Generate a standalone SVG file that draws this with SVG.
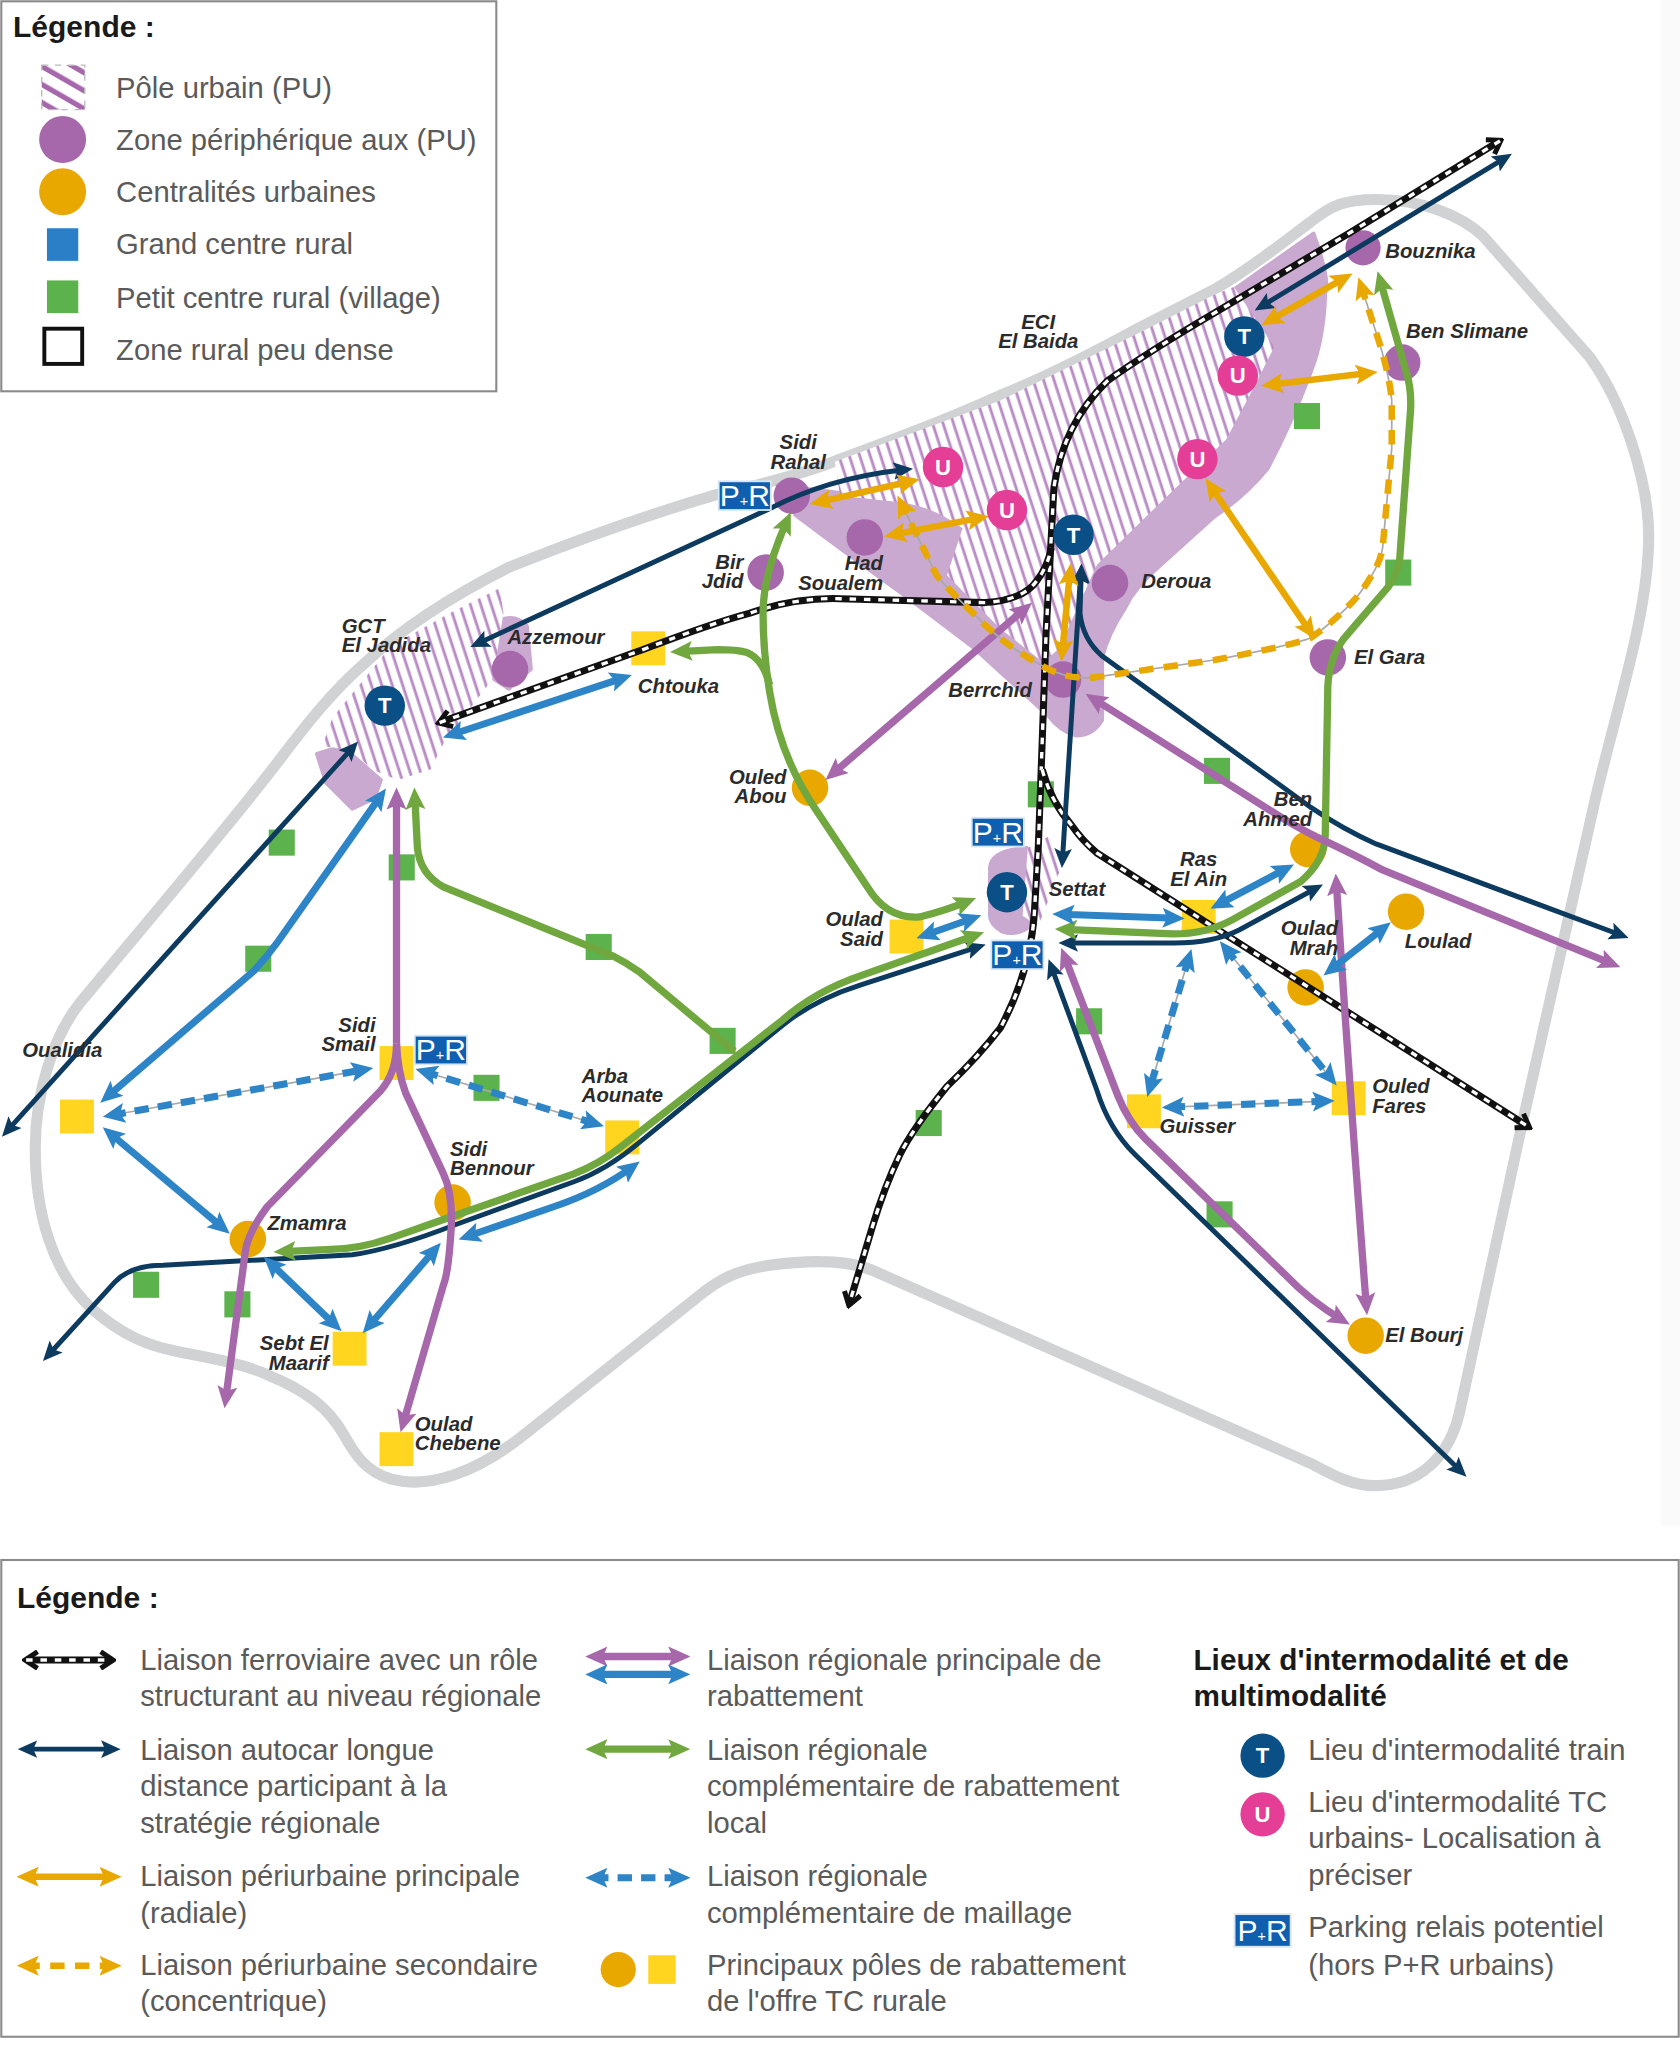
<svg xmlns="http://www.w3.org/2000/svg" width="1680" height="2045" viewBox="0 0 1680 2045">
<style>
text{font-family:"Liberation Sans",Arial,sans-serif}
.lg{font-size:22.4px;fill:#5a5a5a}
.lt{font-size:23px;font-weight:700;fill:#1a1a1a}
.lb{font-size:22.8px;font-weight:700;fill:#1a1a1a}
.nm{font-size:15.6px;font-weight:700;font-style:italic;fill:#2b2b2b}
.e{text-anchor:end}.m{text-anchor:middle}
.ic{font-size:17px;font-weight:700;fill:#fff;text-anchor:middle}
.pr{font-size:23px;fill:#fff;text-anchor:middle}
.box{fill:#fff;stroke:#8a8a8a;stroke-width:1.6}
.lp{fill:#c9a9d0;stroke:#c9a9d0;stroke-width:3;stroke-linejoin:round}
.ha{fill:url(#hatch)}
.pz{fill:#a668ab}.or{fill:#e9a800}.ye{fill:#ffd520}.gr{fill:#5cb24c}.bl{fill:#2a7fc6}
.t{fill:#0a4f85}.u{fill:#e43e97}.prb{fill:#0f5fae;stroke:#d6e6f5;stroke-width:1.4}
path{fill:none}
.zone{stroke:#d0d2d3;stroke-width:8.5;stroke-linejoin:round}
.rb{stroke:#111;stroke-width:5.4;marker-start:url(#hr);marker-end:url(#hr)}
.rn{stroke:#111;stroke-width:5.4}
.rw{stroke:#fff;stroke-width:2.6;stroke-dasharray:5 6}
.na{stroke:#0d3a5f;stroke-width:3.8;marker-start:url(#hna);marker-end:url(#hna)}
.pu{stroke:#a668ab;stroke-width:5.6;marker-start:url(#hpu);marker-end:url(#hpu)}
.gn{stroke:#71a73f;stroke-width:5.6;marker-start:url(#hgn);marker-end:url(#hgn)}
.bu{stroke:#2d84c6;stroke-width:5.4;marker-start:url(#hbu);marker-end:url(#hbu)}
.ora{stroke:#e9a800;stroke-width:5;marker-start:url(#hor);marker-end:url(#hor)}
.thin{stroke:#a9a9a9;stroke-width:1.3}
.dbu{stroke:#2d84c6;stroke-width:5.4;stroke-dasharray:11 7;marker-start:url(#hbu);marker-end:url(#hbu)}
.dor{stroke:#e9a800;stroke-width:5;stroke-dasharray:11 8;marker-start:url(#hor);marker-end:url(#hor)}
</style>
<defs>
<pattern id="hatch" width="7.6" height="9" patternUnits="userSpaceOnUse" patternTransform="rotate(-18)"><rect width="7.6" height="9" fill="#fff"/><rect x="1" width="2.2" height="9" fill="#b88bc4"/></pattern>
<pattern id="hatch2" width="12" height="12" patternUnits="userSpaceOnUse" patternTransform="rotate(30)"><rect width="12" height="12" fill="#fff"/><rect y="2" width="12" height="4" fill="#a668ab"/></pattern>
<marker id="hr" viewBox="0 0 10 10" refX="8" refY="5" markerWidth="16" markerHeight="16" markerUnits="userSpaceOnUse" orient="auto-start-reverse"><path d="M2.5,1 L8.5,5 L2.5,9" style="fill:none;stroke:#111;stroke-width:2.4"/></marker>
<marker id="hna" viewBox="0 0 10 10" refX="6" refY="5" markerWidth="15" markerHeight="15" markerUnits="userSpaceOnUse" orient="auto-start-reverse"><path d="M0,.5 L10,5 L0,9.5 L2,5z" style="fill:#0d3a5f"/></marker>
<marker id="hpu" viewBox="0 0 10 10" refX="6" refY="5" markerWidth="17" markerHeight="17" markerUnits="userSpaceOnUse" orient="auto-start-reverse"><path d="M0,.5 L10,5 L0,9.5 L2,5z" style="fill:#a668ab"/></marker>
<marker id="hgn" viewBox="0 0 10 10" refX="6" refY="5" markerWidth="17" markerHeight="17" markerUnits="userSpaceOnUse" orient="auto-start-reverse"><path d="M0,.5 L10,5 L0,9.5 L2,5z" style="fill:#71a73f"/></marker>
<marker id="hbu" viewBox="0 0 10 10" refX="6" refY="5" markerWidth="17" markerHeight="17" markerUnits="userSpaceOnUse" orient="auto-start-reverse"><path d="M0,.5 L10,5 L0,9.5 L2,5z" style="fill:#2d84c6"/></marker>
<marker id="hor" viewBox="0 0 10 10" refX="6" refY="5" markerWidth="17" markerHeight="17" markerUnits="userSpaceOnUse" orient="auto-start-reverse"><path d="M0,.5 L10,5 L0,9.5 L2,5z" style="fill:#e9a800"/></marker>
</defs>
<rect width="1680" height="2045" fill="#fff"/>
<g transform="scale(1.30435)">
<rect x="1273" y="0" width="15" height="1170" fill="#fafafa"/>
<g id="zones">
<path class="zone" d="M214,583 C170,640 110,710 62,768 C40,795 27,840 27,880 C27,930 40,975 70,1003 C95,1025 115,1032 135,1036 C160,1041 185,1045 205,1054 C235,1066 252,1080 263,1099 C272,1115 280,1128 300,1134 C330,1142 365,1128 398,1103 L534,995 C552,980 565,974 590,970 C620,966 650,966 669,974 L1005,1122 C1020,1130 1035,1139 1055,1139 C1085,1139 1112,1120 1120,1078 L1166,866 L1223,613 C1240,540 1264,470 1264,411 C1264,370 1245,310 1219,274 L1137,181 C1120,165 1090,153 1055,153 C1030,153 1020,158 1005,170 C985,185 960,205 931,222 L874,251 C830,275 800,290 767,303 C725,322 690,335 644,352 C620,362 590,370 550,379 C495,395 440,415 390,435 C350,455 310,480 279,509 C255,530 235,555 214,583 Z"/>
<path class="lp" d="M1007,179 Q1020,215 1016,225 Q1015,260 1005,285 Q990,325 972,359 Q955,380 931,396 L890,433 Q870,450 862,467 Q850,485 845,504 L845,552 Q838,564 825,564 Q812,560 804,549 L747,497 L697,459 Q650,425 610,395 L596,372 L644,378 L946,222 Z"/>
<path class="ha" d="M640,354 L767,307 L874,255 L931,226 L946,220 L977,266 L956,307 L940,337 L890,385 L841,433 L812,497 L800,508 L767,482 L726,441 L738,405 Q715,388 690,385 L644,380 Z"/>
<path class="lp" d="M382,476 Q395,470 404,480 L407,513 L390,528 L378,520 Z M243,578 L262,572 L292,598 L287,612 L270,620 L250,600 Z"/>
<path class="ha" d="M383,451 L386,470 L378,520 L340,570 L330,590 L305,598 L285,590 L270,575 L247,572 L255,550 L300,495 L345,470 Z"/>
<path class="lp" d="M759,665 Q760,652 787,650 L790,710 Q780,718 768,714 Q758,708 759,700 Z"/>
<path class="ha" d="M788,650 L808,639 L812,669 L796,710 L784,702 Z"/>
</g>
<g id="village-1"><rect class="gr" x="992" y="309" width="20" height="20"/></g>
<g id="village-2"><rect class="gr" x="1062" y="429" width="20" height="20"/></g>
<g id="village-3"><rect class="gr" x="923" y="581" width="20" height="20"/></g>
<g id="village-4"><rect class="gr" x="788" y="599" width="20" height="20"/></g>
<g id="village-5"><rect class="gr" x="825" y="773" width="20" height="20"/></g>
<g id="village-6"><rect class="gr" x="702" y="851" width="20" height="20"/></g>
<g id="village-7"><rect class="gr" x="925" y="921" width="20" height="20"/></g>
<g id="village-8"><rect class="gr" x="206" y="636" width="20" height="20"/></g>
<g id="village-9"><rect class="gr" x="298" y="655" width="20" height="20"/></g>
<g id="village-10"><rect class="gr" x="188" y="725" width="20" height="20"/></g>
<g id="village-11"><rect class="gr" x="449" y="716" width="20" height="20"/></g>
<g id="village-12"><rect class="gr" x="544" y="788" width="20" height="20"/></g>
<g id="village-13"><rect class="gr" x="363" y="824" width="20" height="20"/></g>
<g id="village-14"><rect class="gr" x="102" y="975" width="20" height="20"/></g>
<g id="village-15"><rect class="gr" x="172" y="990" width="20" height="20"/></g>

<g id="bouznika"><circle class="pz" cx="1045" cy="190" r="13.5"/></g>
<g id="ben-slimane"><circle class="pz" cx="1075" cy="278" r="14"/></g>
<g id="sidi-rahal"><circle class="pz" cx="607" cy="380" r="14"/></g>
<g id="had-soualem"><circle class="pz" cx="663" cy="412" r="14"/></g>
<g id="bir-jdid"><circle class="pz" cx="587" cy="439" r="14"/></g>
<g id="azzemour"><circle class="pz" cx="391" cy="513" r="14"/></g>
<g id="deroua"><circle class="pz" cx="851" cy="447" r="14"/></g>
<g id="berrchid"><circle class="pz" cx="815" cy="521" r="14"/></g>
<g id="el-gara"><circle class="pz" cx="1018" cy="504" r="14"/></g>
<g id="ouled-abou"><circle class="or" cx="621" cy="604" r="14"/></g>
<g id="ben-ahmed"><circle class="or" cx="1003" cy="651" r="14"/></g>
<g id="loulad"><circle class="or" cx="1078" cy="699" r="14"/></g>
<g id="oulad-mrah"><circle class="or" cx="1001" cy="757" r="14"/></g>
<g id="el-bourj"><circle class="or" cx="1047" cy="1024" r="14"/></g>
<g id="sidi-bennour"><circle class="or" cx="347" cy="922" r="14"/></g>
<g id="zmamra"><circle class="or" cx="190" cy="950" r="14"/></g>
<g id="chtouka"><rect class="ye" x="484" y="484" width="26" height="26"/></g>
<g id="oulad-said"><rect class="ye" x="682" y="705" width="26" height="26"/></g>
<g id="ras-el-ain"><rect class="ye" x="906" y="690" width="26" height="26"/></g>
<g id="guisser"><rect class="ye" x="864" y="839" width="26" height="26"/></g>
<g id="ouled-fares"><rect class="ye" x="1021" y="829" width="26" height="26"/></g>
<g id="sidi-smail"><rect class="ye" x="291" y="802" width="26" height="26"/></g>
<g id="arba-aounate"><rect class="ye" x="464" y="859" width="26" height="26"/></g>
<g id="oualidia"><rect class="ye" x="46" y="843" width="26" height="26"/></g>
<g id="sebt-el-maarif"><rect class="ye" x="255" y="1021" width="26" height="26"/></g>
<g id="oulad-chebene"><rect class="ye" x="291" y="1098" width="26" height="26"/></g>

<g id="connectors">
<path class="rb" d="M1150,108 L1034,179 L931,240 Q880,270 849,292 Q815,325 808,374 L802,485 L798,597 L796,650 L793,700 Q790,745 767,788 Q750,810 726,833 Q700,865 690,885 Q678,910 669,940 L651,1000"/>
<path class="rw" d="M1150,108 L1034,179 L931,240 Q880,270 849,292 Q815,325 808,374 L802,485 L798,597 L796,650 L793,700 Q790,745 767,788 Q750,810 726,833 Q700,865 690,885 Q678,910 669,940 L651,1000"/>
<path class="rn" style="marker-start:url(#hr)" d="M337,554 L493,498 Q545,478 575,470 Q610,458 644,459 L755,462 Q785,460 795,445 Q803,435 806,420"/>
<path class="rw" d="M337,554 L493,498 Q545,478 575,470 Q610,458 644,459 L755,462 Q785,460 795,445 Q803,435 806,420"/>
<path class="rn" style="marker-end:url(#hr)" d="M799,590 Q806,615 821,632 Q830,645 841,654 L1172,864"/>
<path class="rw" d="M799,590 Q806,615 821,632 Q830,645 841,654 L1172,864"/>

<path class="na" d="M967,235 L1154,121"/>
<path class="na" d="M694,360 C650,365 620,375 590,390 L366,493.5"/>
<path class="na" d="M270.5,573 L5.5,867"/>
<path class="na" d="M750,726 L660,755 Q625,766 600,786 L490,876 Q465,897 440,906 L349,939 Q300,958 270,962 L125,970 Q100,970 88,983 L37,1039"/>
<path class="na" d="M828.6,438.5 L814.5,659.5"/>
<path class="na" d="M829,438 L828,470 Q830,490 845,503 L1005,619 Q1030,636 1055,647 L1243,717"/>
<path class="na" d="M1009,681 L950,713 Q930,723 900,723 L817.5,723"/>
<path class="na" d="M806,741 L841,836 Q850,865 870,885 L1120,1128"/>

<path class="gn" d="M1058,214.5 L1078,285 Q1083,300 1081,320 L1073,430 Q1070,445 1060,455 L1030,490 Q1019,505 1018,526 L1016,640 Q1016,660 997,676 L945,705 Q925,716 899,716 L815.5,712.5"/>
<path class="gn" d="M603.5,399 Q585,440 585,470 Q585,500 590,530 Q598,580 625,620 L665,680 Q680,705 705,703 Q725,698 742,691"/>
<path class="gn" style="marker-start:none" d="M590,525 Q585,505 572,500 Q565,498 550,498 L520.5,499.5"/>
<path class="gn" style="marker-end:none" d="M318,610.5 L320,650 Q322,670 340,680 L470,733 Q480,738 490,745 L563,806"/>
<path class="gn" d="M748,717 L660,748 Q625,760 600,782 L475,880 Q460,892 440,900 L340,935 L300,949 Q275,958 250,958 L216.5,959.5"/>

<path class="pu" style="marker-end:none" d="M304,610.5 L304,800"/>
<path class="pu" style="marker-start:none" d="M304,800 Q304,822 292,836 L205,925 Q190,945 188,960 L173,1073"/>
<path class="pu" style="marker-start:none" d="M304,800 Q305,822 311,838 L340,900 Q347,915 346,940 Q344,975 340,985 L309,1091.5"/>
<path class="pu" d="M786,466.5 L638,593.5"/>
<path class="pu" d="M838,535.5 L975,622 Q990,632 1010,642 Q1040,656 1060,667 L1236,739"/>
<path class="pu" d="M1024.5,676.5 Q1035,840 1047.5,1001.5"/>
<path class="pu" d="M816,733 L857,840 Q865,860 878,873 L985,977 Q1005,998 1029,1012"/>

<path class="bu" d="M292,610 L213,722 Q205,733 195,744 L82,841"/>
<path class="bu" d="M84,868.5 L171,941.5"/>
<path class="bu" d="M207,968 L257,1016"/>
<path class="bu" d="M282.5,1017 L333.5,958"/>
<path class="bu" d="M358,948 L425,925 Q460,913 485,894.5"/>
<path class="bu" d="M346,563.3 L478,519.7"/>
<path class="bu" d="M709,717 L746,704"/>
<path class="bu" d="M813.5,701 L901.5,704"/>
<path class="bu" d="M934,693.5 L986,666"/>
<path class="bu" d="M1020,743.7 L1061,711.3"/>

<path class="thin" d="M85.5,855 L279.5,820 M325,821.5 L456.5,861.5 M911.5,734 L881.5,834.5 M939.5,727 L1020.5,827 M897.5,848.8 L1016.5,844.2"/>
<path class="dbu" d="M85.5,855 L279.5,820"/>
<path class="dbu" d="M325,821.5 L456.5,861.5"/>
<path class="dbu" d="M911.5,734 L881.5,834.5"/>
<path class="dbu" d="M939.5,727 L1020.5,827"/>
<path class="dbu" d="M897.5,848.8 L1016.5,844.2"/>

<path class="ora" d="M627.5,385 L698.5,369"/>
<path class="ora" d="M684.5,410 L751.5,397"/>
<path class="ora" d="M973,246 L1031,213"/>
<path class="ora" d="M973.5,295 L1049.5,286"/>
<path class="ora" d="M928,372.5 L1004.5,484.5"/>
<path class="ora" d="M820.3,438.5 L814.3,500.5"/>
<path class="thin" d="M1043.5,219 L1055,255 Q1065,285 1067,307 L1067,344 L1060,420 Q1058,435 1040,458 Q1025,475 1005,489 Q990,495 931,506 L841,519 Q820,522 800,511 Q770,495 747,471 Q725,450 718,441 L691,386"/>
<path class="dor" d="M1043.5,219 L1055,255 Q1065,285 1067,307 L1067,344 L1060,420 Q1058,435 1040,458 Q1025,475 1005,489 Q990,495 931,506 L841,519 Q820,522 800,511 Q770,495 747,471 Q725,450 718,441 L691,386"/>
</g>

<g id="train-1"><circle class="t" cx="954" cy="258" r="15.5"/><text class="ic" x="954" y="264">T</text></g>
<g id="train-2"><circle class="t" cx="823" cy="410" r="15.5"/><text class="ic" x="823" y="416">T</text></g>
<g id="train-3"><circle class="t" cx="295" cy="541" r="15.5"/><text class="ic" x="295" y="547">T</text></g>
<g id="train-4"><circle class="t" cx="772" cy="684" r="15.5"/><text class="ic" x="772" y="690">T</text></g>
<g id="urbain-1"><circle class="u" cx="949" cy="288" r="15.5"/><text class="ic" x="949" y="294">U</text></g>
<g id="urbain-2"><circle class="u" cx="918" cy="352" r="15.5"/><text class="ic" x="918" y="358">U</text></g>
<g id="urbain-3"><circle class="u" cx="772" cy="391" r="15.5"/><text class="ic" x="772" y="397">U</text></g>
<g id="urbain-4"><circle class="u" cx="723" cy="358" r="15.5"/><text class="ic" x="723" y="364">U</text></g>
<g id="pr-1"><rect class="prb" x="551" y="369" width="40" height="22"/><text class="pr" x="571" y="388">P<tspan font-size="11">+</tspan>R</text></g>
<g id="pr-2"><rect class="prb" x="745" y="627" width="40" height="22"/><text class="pr" x="765" y="646">P<tspan font-size="11">+</tspan>R</text></g>
<g id="pr-3"><rect class="prb" x="760" y="721" width="40" height="22"/><text class="pr" x="780" y="740">P<tspan font-size="11">+</tspan>R</text></g>
<g id="pr-4"><rect class="prb" x="318" y="794" width="40" height="22"/><text class="pr" x="338" y="813">P<tspan font-size="11">+</tspan>R</text></g>

<g id="labels">
<text class="nm m" x="796" y="252">ECI</text><text class="nm m" x="796" y="267">El Baida</text>
<text class="nm" x="262" y="485">GCT</text><text class="nm" x="262" y="500">El Jadida</text>
<text class="nm" x="804" y="687">Settat</text>
<text class="nm" x="1062" y="198">Bouznika</text>
<text class="nm" x="1078" y="259">Ben Slimane</text>
<text class="nm m" x="612" y="344">Sidi</text><text class="nm m" x="612" y="359.5">Rahal</text>
<text class="nm e" x="677" y="437">Had</text><text class="nm e" x="677" y="452.5">Soualem</text>
<text class="nm e" x="570" y="436">Bir</text><text class="nm e" x="570" y="451">Jdid</text>
<text class="nm" x="389" y="494">Azzemour</text>
<text class="nm" x="875" y="451">Deroua</text>
<text class="nm" x="727" y="534">Berrchid</text>
<text class="nm" x="1038" y="509">El Gara</text>
<text class="nm e" x="603" y="601">Ouled</text><text class="nm e" x="603" y="616">Abou</text>
<text class="nm e" x="1006" y="618">Ben</text><text class="nm e" x="1006" y="633">Ahmed</text>
<text class="nm" x="1077" y="727">Loulad</text>
<text class="nm e" x="1026" y="717">Oulad</text><text class="nm e" x="1026" y="732">Mrah</text>
<text class="nm" x="1062" y="1029">El Bourj</text>
<text class="nm" x="345" y="886">Sidi</text><text class="nm" x="345" y="901">Bennour</text>
<text class="nm" x="205" y="943">Zmamra</text>
<text class="nm" x="489" y="531">Chtouka</text>
<text class="nm e" x="677" y="710">Oulad</text><text class="nm e" x="677" y="725">Said</text>
<text class="nm m" x="919" y="664">Ras</text><text class="nm m" x="919" y="679">El Ain</text>
<text class="nm" x="889" y="869">Guisser</text>
<text class="nm" x="1052" y="838">Ouled</text><text class="nm" x="1052" y="853">Fares</text>
<text class="nm e" x="288" y="791">Sidi</text><text class="nm e" x="288" y="806">Smail</text>
<text class="nm" x="446" y="830">Arba</text><text class="nm" x="446" y="845">Aounate</text>
<text class="nm" x="17" y="810">Oualidia</text>
<text class="nm e" x="252" y="1035">Sebt El</text><text class="nm e" x="252" y="1050">Maarif</text>
<text class="nm" x="318" y="1097">Oulad</text><text class="nm" x="318" y="1112">Chebene</text>
</g>

<g id="legend-top">
<rect class="box" x="1" y="1" width="379.5" height="299"/>
<text class="lt" x="10" y="28">Légende :</text>
<rect x="32" y="50" width="33" height="34" style="fill:url(#hatch2);stroke:#bbb;stroke-width:1;stroke-dasharray:5 5"/>
<text class="lg" x="89" y="75">Pôle urbain (PU)</text>
<circle class="pz" cx="48" cy="107" r="18"/>
<text class="lg" x="89" y="115">Zone périphérique aux (PU)</text>
<circle class="or" cx="48" cy="147" r="18"/>
<text class="lg" x="89" y="155">Centralités urbaines</text>
<rect class="bl" x="36" y="175" width="24" height="25"/>
<text class="lg" x="89" y="195">Grand centre rural</text>
<rect class="gr" x="36" y="215" width="24" height="25"/>
<text class="lg" x="89" y="236">Petit centre rural (village)</text>
<rect x="34" y="252" width="29" height="27" style="fill:#fff;stroke:#111;stroke-width:3"/>
<text class="lg" x="89" y="276">Zone rural peu dense</text>
</g>

<g id="legend-bottom">
<rect class="box" x="1" y="1196" width="1286" height="365.5"/>
<text class="lt" x="13" y="1233">Légende :</text>
<path class="rb" d="M20,1272.7 L86,1272.7"/><path class="rw" d="M20,1272.7 L86,1272.7"/>
<text class="lg" x="107.5" y="1280">Liaison ferroviaire avec un rôle</text><text class="lg" x="107.5" y="1308">structurant au niveau régionale</text>
<path class="na" d="M19.5,1341 L86.5,1341"/>
<text class="lg" x="107.5" y="1349">Liaison autocar longue</text><text class="lg" x="107.5" y="1377">distance participant à la</text><text class="lg" x="107.5" y="1405">stratégie régionale</text>
<path class="ora" d="M19.5,1438.8 L86.5,1438.8"/>
<text class="lg" x="107.5" y="1446">Liaison périurbaine principale</text><text class="lg" x="107.5" y="1474">(radiale)</text>
<path class="dor" d="M19.5,1507 L86.5,1507"/>
<text class="lg" x="107.5" y="1514">Liaison périurbaine secondaire</text><text class="lg" x="107.5" y="1542">(concentrique)</text>
<path class="pu" d="M455.5,1270 L522.5,1270"/><path class="bu" d="M455.5,1283.7 L522.5,1283.7"/>
<text class="lg" x="542" y="1280">Liaison régionale principale de</text><text class="lg" x="542" y="1308">rabattement</text>
<path class="gn" d="M455.5,1341 L522.5,1341"/>
<text class="lg" x="542" y="1349">Liaison régionale</text><text class="lg" x="542" y="1377">complémentaire de rabattement</text><text class="lg" x="542" y="1405">local</text>
<path class="dbu" d="M455.5,1439.6 L522.5,1439.6"/>
<text class="lg" x="542" y="1446">Liaison régionale</text><text class="lg" x="542" y="1474">complémentaire de maillage</text>
<circle class="or" cx="474" cy="1510" r="13.5"/><rect class="ye" x="497" y="1499" width="21" height="22"/>
<text class="lg" x="542" y="1514">Principaux pôles de rabattement</text><text class="lg" x="542" y="1542">de l'offre TC rurale</text>
<text class="lb" x="915" y="1280">Lieux d'intermodalité et de</text><text class="lb" x="915" y="1308">multimodalité</text>
<circle class="t" cx="968" cy="1346" r="17"/><text class="ic" x="968" y="1352">T</text>
<text class="lg" x="1003" y="1349">Lieu d'intermodalité train</text>
<circle class="u" cx="968" cy="1391" r="17"/><text class="ic" x="968" y="1397">U</text>
<text class="lg" x="1003" y="1389">Lieu d'intermodalité TC</text><text class="lg" x="1003" y="1417">urbains- Localisation à</text><text class="lg" x="1003" y="1445">préciser</text>
<rect class="prb" x="946.5" y="1467.5" width="43" height="25"/><text class="pr" x="968" y="1488">P<tspan font-size="11">+</tspan>R</text>
<text class="lg" x="1003" y="1485">Parking relais potentiel</text><text class="lg" x="1003" y="1514">(hors P+R urbains)</text>
</g>
</g>
</svg>
